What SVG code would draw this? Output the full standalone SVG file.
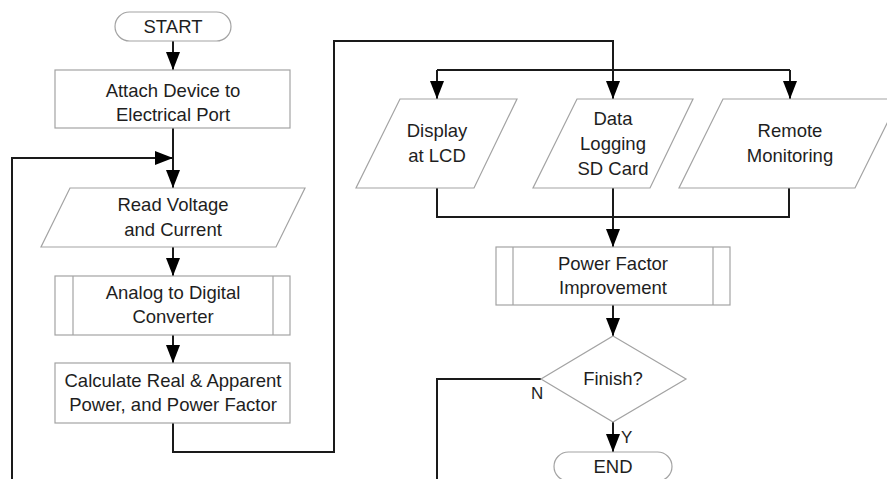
<svg xmlns="http://www.w3.org/2000/svg" width="887" height="479" viewBox="0 0 887 479">
  <style>
    .shape { fill: #ffffff; stroke: #a3a3a3; stroke-width: 1.2; }
    .inner { fill: none; stroke: #a3a3a3; stroke-width: 1.2; }
    .label { font-family: "Liberation Sans", Arial, sans-serif; font-size: 18.5px; fill: #1e1e1e; text-anchor: middle; }
    .small { font-family: "Liberation Sans", Arial, sans-serif; font-size: 17px; fill: #1e1e1e; }
    .wire { fill: none; stroke: #1a1a1a; stroke-width: 2; }
    .arrow { fill: none; stroke: #1a1a1a; stroke-width: 2; marker-end: url(#head); }
  </style>
  <defs>
    <marker id="head" markerUnits="userSpaceOnUse" markerWidth="18" markerHeight="14" refX="18" refY="7" orient="auto">
      <path d="M0,0 L18,7 L0,14 Z" fill="#000000"/>
    </marker>
  </defs>
  <rect width="887" height="479" fill="#ffffff"/>

  <!-- connectors -->
  <g id="connectors">
    <path class="arrow" d="M173,41 V70"/>
    <path class="arrow" d="M173,128 V188"/>
    <path class="arrow" d="M12,480 V158 H173"/>
    <path class="arrow" d="M173,247 V276"/>
    <path class="arrow" d="M173,335 V363"/>
    <path class="arrow" d="M173,423 V452 H334 V41 H613 V99"/>
    <path class="wire" d="M437,70 H790"/>
    <path class="arrow" d="M437,70 V99"/>
    <path class="arrow" d="M790,70 V99"/>
    <path class="wire" d="M437,188 V217 H789 V188"/>
    <path class="arrow" d="M613,188 V247"/>
    <path class="arrow" d="M613,305 V336"/>
    <path class="arrow" d="M613,422 V452"/>
    <path class="wire" d="M541,379 H437 V480"/>
  </g>

  <g id="start">
    <rect class="shape" x="115" y="12" width="116" height="29" rx="14.5"/>
    <text class="label" x="173" y="33">START</text>
  </g>

  <g id="attach">
    <rect class="shape" x="55" y="70" width="235" height="58"/>
    <text class="label" x="173" y="97">Attach Device to</text>
    <text class="label" x="173" y="121">Electrical Port</text>
  </g>

  <g id="read">
    <polygon class="shape" points="70,188 305,188 276,247 41,247"/>
    <text class="label" x="173" y="211">Read Voltage</text>
    <text class="label" x="173" y="236">and Current</text>
  </g>

  <g id="adc">
    <rect class="shape" x="55" y="276" width="235" height="59"/>
    <line class="inner" x1="73" y1="276" x2="73" y2="335"/>
    <line class="inner" x1="273" y1="276" x2="273" y2="335"/>
    <text class="label" x="173" y="299">Analog to Digital</text>
    <text class="label" x="173" y="323">Converter</text>
  </g>

  <g id="calculate">
    <rect class="shape" x="55" y="363" width="235" height="60"/>
    <text class="label" x="173" y="387">Calculate Real &amp; Apparent</text>
    <text class="label" x="173" y="411">Power, and Power Factor</text>
  </g>

  <g id="display">
    <polygon class="shape" points="400,99 517,99 474,188 356,188"/>
    <text class="label" x="437" y="137">Display</text>
    <text class="label" x="437" y="162">at LCD</text>
  </g>

  <g id="logging">
    <polygon class="shape" points="577,99 693,99 650,188 533,188"/>
    <text class="label" x="613" y="125">Data</text>
    <text class="label" x="613" y="150">Logging</text>
    <text class="label" x="613" y="175">SD Card</text>
  </g>

  <g id="remote">
    <polygon class="shape" points="723,99 899,99 855,188 679,188"/>
    <text class="label" x="790" y="137">Remote</text>
    <text class="label" x="790" y="162">Monitoring</text>
  </g>

  <g id="pfi">
    <rect class="shape" x="496" y="247" width="234" height="58"/>
    <line class="inner" x1="513" y1="247" x2="513" y2="305"/>
    <line class="inner" x1="713" y1="247" x2="713" y2="305"/>
    <text class="label" x="613" y="270">Power Factor</text>
    <text class="label" x="613" y="294">Improvement</text>
  </g>

  <g id="finish">
    <polygon class="shape" points="613,336 686,379 613,422 541,379"/>
    <text class="label" x="613" y="385">Finish?</text>
    <text class="small" x="531" y="399">N</text>
    <text class="small" x="621" y="443">Y</text>
  </g>

  <g id="end">
    <rect class="shape" x="554" y="452" width="118" height="29" rx="14.5"/>
    <text class="label" x="613" y="473">END</text>
  </g>
</svg>
